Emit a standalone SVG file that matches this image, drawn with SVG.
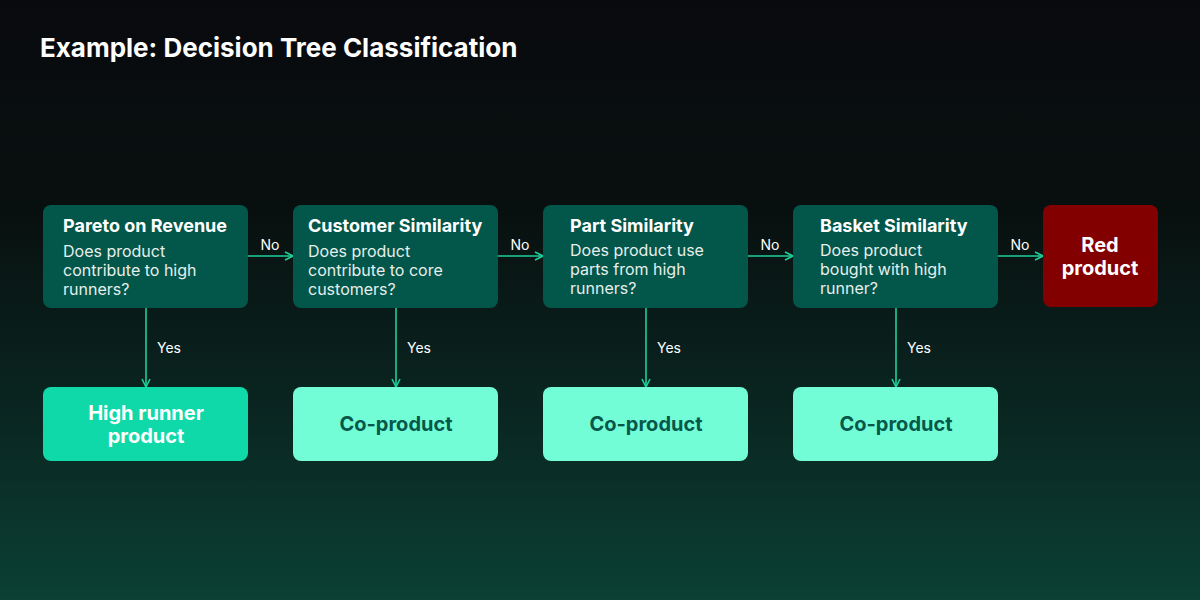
<svg xmlns="http://www.w3.org/2000/svg" width="1200" height="600" viewBox="0 0 1200 600">
<defs>
<linearGradient id="bg" x1="0" y1="0" x2="0" y2="1">
<stop offset="0" stop-color="#090a0e"/>
<stop offset="0.35" stop-color="#08100f"/>
<stop offset="0.7" stop-color="#0a2722"/>
<stop offset="1" stop-color="#0b4034"/>
</linearGradient>
<marker id="ah" viewBox="0 0 10 10" refX="9" refY="5" markerWidth="10" markerHeight="10" markerUnits="userSpaceOnUse" orient="auto">
<path d="M1,1 L9,5 L1,9" fill="none" stroke="#1ecf9b" stroke-width="1.6"/>
</marker>
<style>
.dec{fill:#03564a}
.t{font-family:Inter,"Noto Sans",sans-serif;font-weight:700;font-size:18px;fill:#ffffff}
.b{font-family:Inter,"Noto Sans",sans-serif;font-weight:400;font-size:16px;fill:#e6efec}
.lbl{font-family:Inter,"Noto Sans",sans-serif;font-weight:400;font-size:14px;fill:#ffffff}
.res{font-family:Inter,"Noto Sans",sans-serif;font-weight:700;font-size:20px;text-anchor:middle}
.ln{stroke:#1ecf9b;stroke-width:1.6;fill:none}
</style>
</defs>
<rect width="1200" height="600" fill="url(#bg)"/>
<text x="40" y="57" style="font-family:Inter,'Noto Sans',sans-serif;font-weight:700;font-size:26px;fill:#ffffff">Example: Decision Tree Classification</text>

<g id="connectors">
<line class="ln" x1="248" y1="256" x2="293" y2="256" marker-end="url(#ah)"/>
<line class="ln" x1="498" y1="256" x2="543" y2="256" marker-end="url(#ah)"/>
<line class="ln" x1="748" y1="256" x2="793" y2="256" marker-end="url(#ah)"/>
<line class="ln" x1="998" y1="256" x2="1043" y2="256" marker-end="url(#ah)"/>
<line class="ln" x1="146" y1="308" x2="146" y2="387" marker-end="url(#ah)"/>
<line class="ln" x1="396" y1="308" x2="396" y2="387" marker-end="url(#ah)"/>
<line class="ln" x1="646" y1="308" x2="646" y2="387" marker-end="url(#ah)"/>
<line class="ln" x1="896" y1="308" x2="896" y2="387" marker-end="url(#ah)"/>
<text class="lbl" x="270" y="250" text-anchor="middle">No</text>
<text class="lbl" x="520" y="250" text-anchor="middle">No</text>
<text class="lbl" x="770" y="250" text-anchor="middle">No</text>
<text class="lbl" x="1020" y="250" text-anchor="middle">No</text>
<text class="lbl" x="157" y="353">Yes</text>
<text class="lbl" x="407" y="353">Yes</text>
<text class="lbl" x="657" y="353">Yes</text>
<text class="lbl" x="907" y="353">Yes</text>
</g>

<g id="n1">
<rect class="dec" x="43" y="205" width="205" height="103" rx="8"/>
<text class="t" x="63" y="232">Pareto on Revenue</text>
<text class="b" x="63" y="257">Does product</text>
<text class="b" x="63" y="276">contribute to high</text>
<text class="b" x="63" y="295">runners?</text>
</g>
<g id="n2">
<rect class="dec" x="293" y="205" width="205" height="103" rx="8"/>
<text class="t" x="308" y="232">Customer Similarity</text>
<text class="b" x="308" y="257">Does product</text>
<text class="b" x="308" y="276">contribute to core</text>
<text class="b" x="308" y="295">customers?</text>
</g>
<g id="n3">
<rect class="dec" x="543" y="205" width="205" height="103" rx="8"/>
<text class="t" x="570" y="232">Part Similarity</text>
<text class="b" x="570" y="256">Does product use</text>
<text class="b" x="570" y="275">parts from high</text>
<text class="b" x="570" y="294">runners?</text>
</g>
<g id="n4">
<rect class="dec" x="793" y="205" width="205" height="103" rx="8"/>
<text class="t" x="820" y="232">Basket Similarity</text>
<text class="b" x="820" y="256">Does product</text>
<text class="b" x="820" y="275">bought with high</text>
<text class="b" x="820" y="294">runner?</text>
</g>
<g id="n5">
<rect x="1043" y="205" width="115" height="102" rx="8" fill="#830000"/>
<text class="res" x="1100" y="252" fill="#ffffff">Red</text>
<text class="res" x="1100" y="275" fill="#ffffff">product</text>
</g>
<g id="r1">
<rect x="43" y="387" width="205" height="74" rx="8" fill="#0fd9a8"/>
<text class="res" x="146" y="420" fill="#ffffff">High runner</text>
<text class="res" x="146" y="443" fill="#ffffff">product</text>
</g>
<g id="r2">
<rect x="293" y="387" width="205" height="74" rx="8" fill="#73fdd6"/>
<text class="res" x="396" y="431" fill="#07584a">Co-product</text>
</g>
<g id="r3">
<rect x="543" y="387" width="205" height="74" rx="8" fill="#73fdd6"/>
<text class="res" x="646" y="431" fill="#07584a">Co-product</text>
</g>
<g id="r4">
<rect x="793" y="387" width="205" height="74" rx="8" fill="#73fdd6"/>
<text class="res" x="896" y="431" fill="#07584a">Co-product</text>
</g>
</svg>
